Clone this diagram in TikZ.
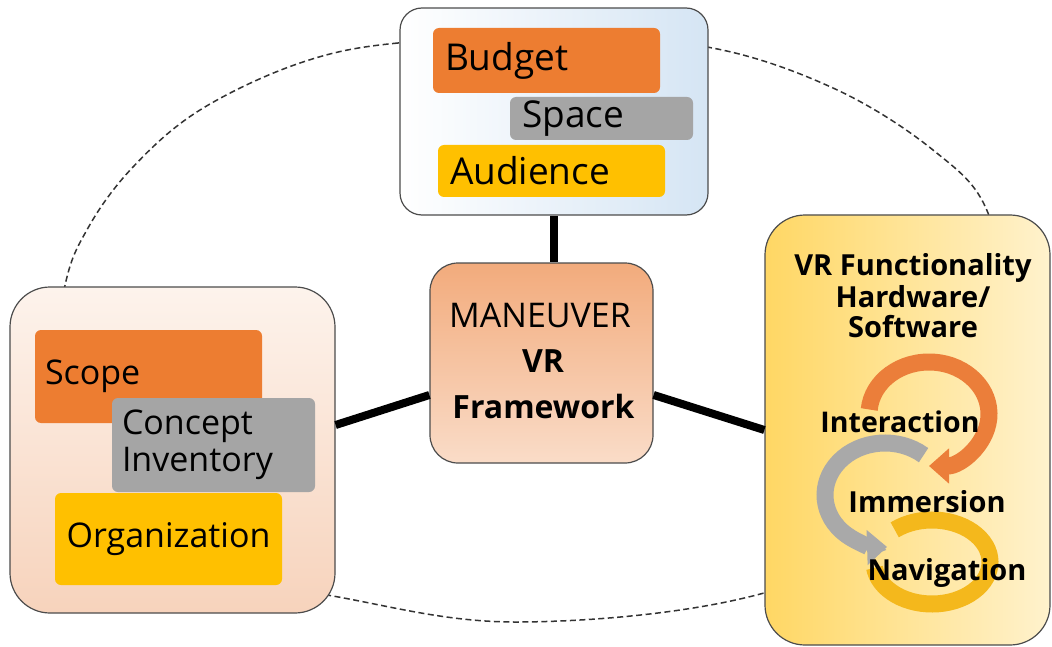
\documentclass[tikz,border=0pt]{standalone}
\usepackage{fontspec}
\setmainfont{Open Sans}
\usetikzlibrary{calc,arrows.meta}
\definecolor{orangeC}{HTML}{ED7D31}
\definecolor{grayC}{HTML}{A5A5A5}
\definecolor{yellowC}{HTML}{FFC000}
\definecolor{topblue}{HTML}{D5E5F4}
\definecolor{peachTop}{HTML}{FDF3EC}
\definecolor{peachBot}{HTML}{F7D3BC}
\definecolor{ctrTop}{HTML}{F2AB7C}
\definecolor{ctrBot}{HTML}{FADCC8}
\definecolor{yelL}{HTML}{FFD764}
\definecolor{yelR}{HTML}{FFF2CD}
\definecolor{ringOrange}{HTML}{EB7E3A}
\definecolor{ringGray}{HTML}{A9A9A9}
\definecolor{ringYellow}{HTML}{F4B81C}
\begin{document}
\begin{tikzpicture}[x=1pt,y=-1pt,
  outerbox/.style={draw=black!70,line width=1.2pt,inner sep=0pt},
  subbox/.style={rounded corners=6pt,inner ysep=0pt,inner xsep=12pt,align=left},
  conn/.style={line width=8pt,black},
  ring/.style={line width=17pt},
  fA/.style={font=\fontsize{37}{40}\selectfont},
  fB/.style={font=\fontsize{34}{37}\selectfont},
  fC/.style={font=\fontsize{34}{37}\selectfont},
  fD/.style={font=\bfseries\fontsize{32}{36}\selectfont},
  fE/.style={font=\bfseries\fontsize{29}{32}\selectfont},
  fF/.style={font=\bfseries\fontsize{28.5}{32}\selectfont}
]
\useasboundingbox (0,0) rectangle (1052,647);

% dashed ellipse
\draw[black!80,line width=1.5pt,dash pattern=on 6pt off 3.5pt]
  plot[smooth cycle,tension=0.6] coordinates {(552,38) (398,43) (300,63) (200,110) (133,167) (88,228) (64,290) (48,420) (150,560) (327,595) (518,622) (764,593) (960,500) (1005,330) (988,213) (933,150) (833,88) (707,47)};

% outer boxes
\node[outerbox,rounded corners=22pt,left color=white,right color=topblue,
  minimum width=308pt,minimum height=207pt] (top) at (554,111.5) {};
\node[outerbox,rounded corners=40pt,top color=peachTop,bottom color=peachBot,
  minimum width=325pt,minimum height=326pt] (left) at (172.5,450) {};
\node[outerbox,rounded corners=28pt,top color=ctrTop,bottom color=ctrBot,
  minimum width=223pt,minimum height=200pt] (c) at (541.5,363) {};
\node[outerbox,rounded corners=40pt,left color=yelL,right color=yelR,
  minimum width=285pt,minimum height=430pt] (right) at (907.5,430) {};

% connectors
\coordinate (cl) at ($(c.west)+(0,32)$);
\coordinate (cr) at ($(c.east)+(0,32)$);
\coordinate (ll) at ($(left.east)+(0,-25)$);
\draw[conn] (top.south) -- (top.south |- c.north);
\draw[conn] (ll) -- (cl);
\draw[conn] (cr) -- (right.west);

% top box contents
\node[subbox,fill=orangeC,text width=203pt,minimum height=65pt,fA] (budget) at (546.5,60.5) {Budget};
\node[subbox,fill=grayC,text width=159pt,minimum height=43pt,fA] (space) at (601.5,118.5) {Space};
\node[subbox,fill=yellowC,text width=203pt,minimum height=52pt,fA] (aud) at (551.5,171) {Audience};

% left box contents
\node[subbox,inner xsep=10pt,fill=orangeC,text width=207pt,minimum height=93pt,fB] (scope) at (148.5,376.5) {Scope};
\node[subbox,inner xsep=10pt,fill=grayC,text width=183pt,minimum height=94pt,fB] (concept) at (213.5,445) {Concept\\Inventory};
\node[subbox,inner xsep=10pt,fill=yellowC,text width=207pt,minimum height=92pt,align=center,fB] (org) at (168.5,539) {Organization};

% center text
\node[fC,anchor=base,inner sep=0pt] (t1) at (540,327) {MANEUVER};
\node[fD,anchor=base,inner sep=0pt] (t2) at (543,372) {VR};
\node[fD,anchor=base,inner sep=0pt] (t3) at (543.5,418) {Framework};

% right box rings
\draw[ring,draw=ringYellow] (932,562) ++(-130:58 and 42)
  arc[start angle=-130,end angle=172,x radius=58,y radius=42];
\draw[ring,draw=ringGray,-{Triangle[width=34pt,length=20pt]}] (885,495) ++(-50:60 and 52)
  arc[start angle=-50,end angle=-272,x radius=60,y radius=52];
\draw[ring,draw=ringOrange,-{Triangle[width=34pt,length=20pt]}] (929,414) ++(-175:60 and 52)
  arc[start angle=-175,end angle=90,x radius=60,y radius=52];

% right box text
\node[fE,anchor=base,inner sep=0pt] (r1) at (913,275) {VR Functionality};
\node[fE,anchor=base,inner sep=0pt] (r2) at (913,307) {Hardware/};
\node[fE,anchor=base,inner sep=0pt] (r3) at (913,337) {Software};
\node[fF,anchor=base,inner sep=0pt] (inter) at (900,432) {Interaction};
\node[fE,anchor=base,inner sep=0pt] (imm) at (927,512) {Immersion};
\node[fE,anchor=base,inner sep=0pt] (nav) at (947,580) {Navigation};
\end{tikzpicture}
\end{document}
